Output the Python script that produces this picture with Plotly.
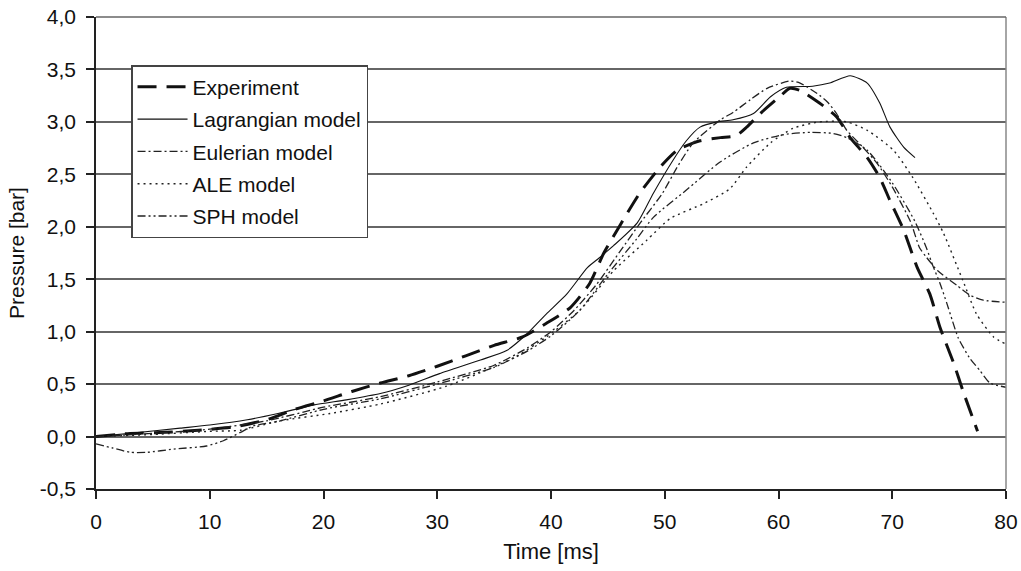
import plotly.graph_objects as go

# ---- data ----
exp_t = [0, 3, 6, 9, 12, 15, 17.5, 20, 22.5, 25, 27.5, 30, 32.5, 35, 37.5, 39.6, 41.7, 43.4, 44.6,
         46.1, 47.8, 49.6, 51.1, 53.1, 54.9, 56.3, 57.2, 58.4, 60.1, 61, 61.9, 63.6, 65.1, 66.3,
         67.8, 68.9, 69.8, 71, 72.2, 73.3, 74.2, 75.4, 76.2, 77.5]
exp_v = [0, 0.03, 0.04, 0.06, 0.09, 0.16, 0.26, 0.34, 0.43, 0.51, 0.58, 0.67, 0.77, 0.87, 0.95, 1.08,
         1.23, 1.46, 1.74, 2.02, 2.32, 2.57, 2.73, 2.82, 2.85, 2.87, 2.95, 3.08, 3.24, 3.32, 3.30,
         3.18, 3.05, 2.85, 2.66, 2.47, 2.25, 1.97, 1.61, 1.36, 1.04, 0.70, 0.44, 0.05]

lag_t = [0, 3, 7.4, 10, 13.3, 16, 19.1, 22, 25, 27.5, 30.2, 33.8, 36.1, 37.9, 39.6, 41.4, 43.2, 44.2,
         45.5, 47.6, 49, 50.7, 51.9, 53.1, 54.6, 56, 57.8, 59.3, 60.7, 63, 64.5, 66.3, 67.8, 68.9,
         69.8, 71, 72]
lag_v = [0, 0.03, 0.08, 0.11, 0.16, 0.22, 0.30, 0.35, 0.41, 0.49, 0.60, 0.73, 0.82, 0.98, 1.17, 1.36,
         1.61, 1.70, 1.82, 2.04, 2.32, 2.63, 2.82, 2.95, 3.00, 3.02, 3.08, 3.24, 3.33, 3.34, 3.37,
         3.44, 3.37, 3.18, 2.95, 2.76, 2.66]

eul_t = [0, 5, 10, 15, 20, 25, 30, 35, 38, 40, 42, 44, 46.1, 47.8, 49.8, 51.1, 52.5, 54.9, 56, 57.5,
         59, 61, 61.9, 63.4, 64.3, 65.1, 66, 67.4, 68.7, 70, 71.6, 72.4, 73, 74, 75.7, 76.8, 78, 80]
eul_v = [0, 0.03, 0.07, 0.15, 0.28, 0.38, 0.52, 0.68, 0.85, 1.0, 1.2, 1.45, 1.77, 2.03, 2.32, 2.57,
         2.80, 3.02, 3.09, 3.21, 3.32, 3.39, 3.37, 3.27, 3.19, 3.08, 2.92, 2.76, 2.60, 2.38, 2.05,
         1.80, 1.71, 1.58, 1.44, 1.35, 1.30, 1.28]

ale_t = [0, 5, 10, 12.7, 16.2, 20.6, 25, 30.8, 36.7, 39.6, 42.5, 45.5, 48.4, 50.5, 53.4, 55.7, 57.2,
         59.3, 61.3, 63.6, 66, 67.8, 70.1, 71.8, 73.6, 74.5, 76.2, 77.4, 78.9, 80]
ale_v = [0, 0.02, 0.05, 0.06, 0.15, 0.22, 0.31, 0.48, 0.75, 0.95, 1.20, 1.58, 1.87, 2.08, 2.22, 2.36,
         2.57, 2.80, 2.94, 3.0, 3.0, 2.92, 2.73, 2.47, 2.13, 1.94, 1.49, 1.17, 0.95, 0.88]

sph_t = [0, 1.5, 3, 4.5, 6.8, 9.7, 11.2, 12.7, 13.8, 16.2, 20, 25, 30, 35, 38, 40, 42.5, 45, 47.5, 49,
         51.9, 54.9, 57.8, 60.5, 62.8, 64.8, 66, 67.8, 70, 72, 73, 73.6, 74.2, 74.8, 75.3, 75.8, 76.8,
         77.7, 78.6, 80]
sph_v = [-0.07, -0.11, -0.15, -0.15, -0.12, -0.09, -0.04, 0.04, 0.10, 0.15, 0.26, 0.36, 0.50, 0.66,
         0.82, 0.96, 1.2, 1.55, 1.88, 2.09, 2.35, 2.62, 2.80, 2.88, 2.90, 2.89, 2.85, 2.73, 2.42, 2.05,
         1.80, 1.62, 1.46, 1.27, 1.10, 0.94, 0.75, 0.63, 0.51, 0.47]

x_ticks = [0, 10, 20, 30, 40, 50, 60, 70, 80]
y_ticks = [-0.5, 0.0, 0.5, 1.0, 1.5, 2.0, 2.5, 3.0, 3.5, 4.0]
y_tick_labels = ["-0,5", "0,0", "0,5", "1,0", "1,5", "2,0", "2,5", "3,0", "3,5", "4,0"]

names = ["Experiment", "Lagrangian model", "Eulerian model", "ALE model", "SPH model"]

FONT = "Liberation Sans, Arial, sans-serif"
fig = go.Figure()
series = [
    (exp_t, exp_v, dict(color="#111", width=3, dash="19px,10px")),
    (lag_t, lag_v, dict(color="#111", width=1.1, dash="solid")),
    (eul_t, eul_v, dict(color="#222", width=1.3, dash="8px,3px,2px,3px")),
    (ale_t, ale_v, dict(color="#222", width=1.4, dash="2px,4px")),
    (sph_t, sph_v, dict(color="#222", width=1.3, dash="8px,3px,2px,3px,2px,3px")),
]
for i, ((t, v, ln), nm) in enumerate(zip(series, names)):
    fig.add_trace(go.Scatter(x=t, y=v, mode="lines", name=nm,
                             line=dict(shape="spline", smoothing=0.6, **ln),
                             legendgroup=f"g{i}"))

# right border and top line of the plot area
fig.add_shape(type="line", xref="paper", yref="paper", x0=1, x1=1, y0=0, y1=1,
              line=dict(color="#888", width=1.5))
fig.add_shape(type="line", xref="paper", yref="paper", x0=0, x1=1, y0=1, y1=1,
              line=dict(color="#666", width=1.5))

fig.update_layout(
    width=1021, height=571,
    margin=dict(l=96, r=15, t=17, b=82, autoexpand=False),
    plot_bgcolor="white", paper_bgcolor="white",
    font=dict(family=FONT, size=21, color="#111"),
    showlegend=True,
    legend=dict(x=0.0385, y=0.898, xanchor="left", yanchor="top",
                bgcolor="white", bordercolor="#444", borderwidth=1.5,
                font=dict(size=21), tracegroupgap=2, itemwidth=50),
    xaxis=dict(range=[0, 80], tickvals=x_ticks, showgrid=False, zeroline=False,
               automargin=False, ticklabeloverflow="allow",
               showline=True, linecolor="#222", linewidth=1.5,
               ticks="outside", ticklen=8, tickcolor="#222", tickwidth=1.5,
               ticklabelstandoff=5,
               title=dict(text="Time [ms]", standoff=12, font=dict(size=22))),
    yaxis=dict(range=[-0.5, 4.0], tickvals=y_ticks, ticktext=y_tick_labels,
               automargin=False, ticklabeloverflow="allow",
               showgrid=True, gridcolor="#666", gridwidth=1.5, zeroline=False,
               showline=True, linecolor="#222", linewidth=1.5,
               ticks="outside", ticklen=8, tickcolor="#222", tickwidth=1.5,
               ticklabelstandoff=6,
               title=dict(text="Pressure [bar]", standoff=10, font=dict(size=21))),
)

# remove the default 8px page margin so the figure fills the window exactly
fig.write_html("out.html", config={"displayModeBar": False},
               post_script="document.body.style.margin='0';")
